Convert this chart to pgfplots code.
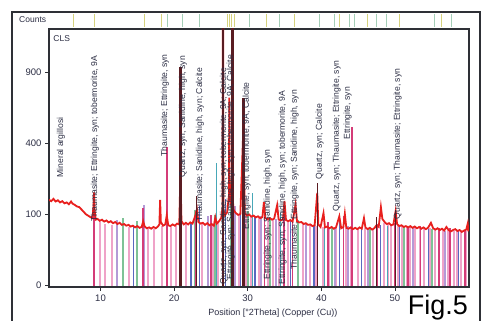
\documentclass[border=0pt]{standalone}
\usepackage{fontspec}
\setmainfont{Liberation Sans}
\usepackage{pgfplots}
\usepackage{pgfplotstable}
\pgfplotsset{compat=1.18}
\definecolor{txt}{HTML}{2C2E44}
\definecolor{frame}{HTML}{2E3036}
\definecolor{cred}{HTML}{E8201E}
\definecolor{cpink}{HTML}{EFA3C8}
\definecolor{cmag}{HTML}{D43C78}
\definecolor{cblue}{HTML}{5A68C0}
\definecolor{cgreen}{HTML}{7EC296}
\definecolor{cpurp}{HTML}{B49AD6}
\definecolor{cdark}{HTML}{5A1C22}
\definecolor{cteal}{HTML}{48A8B8}
\definecolor{sy}{HTML}{D6D27E}
\definecolor{sg}{HTML}{A5CFB8}
\tikzset{lbl/.style={rotate=90, anchor=west, font=\fontsize{8.6}{10}\selectfont, text=txt, inner sep=0.5pt}}

\pgfplotstableread{
x c
3.0 146
3.3 141
3.6 149
3.9 140
4.2 144
4.5 137
4.8 141
5.1 134
5.4 137
5.7 131
6.0 140
6.2 133
6.5 129
6.8 124
7.1 122
7.4 115
7.7 108
8.0 101
8.3 97
8.6 93
8.9 90
9.05 125
9.12 172
9.2 112
9.35 86
9.6 88
9.9 83
10.2 86
10.5 81
10.8 84
11.1 79
11.4 82
11.7 77
12.0 80
12.3 75
12.6 78
12.9 73
13.2 75
13.5 71
13.8 73
14.1 69
14.4 71
14.7 67
15.0 70
15.3 66
15.6 68
15.8 82
16.0 69
16.3 65
16.6 67
16.9 64
17.2 68
17.5 65
17.8 69
18.0 74
18.1 145
18.2 80
18.5 71
18.8 74
19.0 98
19.2 72
19.5 70
19.8 74
20.1 71
20.4 76
20.7 74
20.86 250
21.0 82
21.3 74
21.6 78
21.9 74
22.2 79
22.5 76
22.9 98
23.1 115
23.3 80
23.6 76
23.9 78
24.2 73
24.5 77
24.8 72
25.1 75
25.4 71
25.6 92
25.8 76
26.1 82
26.4 90
26.58 120
26.64 3000
26.70 115
26.9 98
27.2 106
27.45 160
27.5 700
27.55 150
27.7 135
27.85 160
27.9 1800
27.95 150
28.1 112
28.4 104
28.7 99
29.0 101
29.4 480
29.6 104
29.9 97
30.2 100
30.5 94
30.8 97
31.1 92
31.4 95
31.7 90
32.0 93
32.2 138
32.4 90
32.7 87
33.0 90
33.3 86
33.6 89
34.0 128
34.2 87
34.5 84
34.8 87
35.0 142
35.2 85
35.5 82
35.8 85
36.1 81
36.5 130
36.7 82
37.0 79
37.3 80
37.6 75
37.9 77
38.2 73
38.5 74
38.8 70
39.1 72
39.45 170
39.6 74
39.9 68
40.3 104
40.5 67
40.8 69
41.1 65
41.4 68
41.7 64
42.0 67
42.45 95
42.7 65
43.0 68
43.2 102
43.4 66
43.7 64
44.0 67
44.3 63
44.6 66
44.9 63
45.2 67
45.5 64
45.8 90
46.0 67
46.3 63
46.6 66
46.9 62
47.2 65
47.5 72
47.8 68
48.1 122
48.3 88
48.6 80
48.9 75
49.2 77
49.5 72
49.8 74
50.1 110
50.3 75
50.6 70
50.9 72
51.2 68
51.5 70
51.8 67
52.1 70
52.4 66
52.7 69
53.0 65
53.3 68
53.6 64
53.9 67
54.2 63
54.5 66
54.9 78
55.2 65
55.5 62
55.8 65
56.1 61
56.4 64
56.7 60
57.0 68
57.3 61
57.6 58
57.9 61
58.2 63
58.5 59
58.8 61
59.1 57
59.4 60
59.7 62
59.9 76
60.0 58
}\scan

\pgfplotstableread{
x c
9.9 80
10.6 76
11.6 72
13.9 68
16.5 63
17.2 64
18.3 70
19.6 68
20.3 70
21.6 75
23.8 76
25.3 72
26.0 80
28.8 98
29.8 98
30.5 95
31.5 92
32.8 88
33.5 86
34.2 86
35.5 83
36.9 80
37.5 76
38.5 73
39.3 71
40.2 68
41.0 67
42.0 66
43.3 66
44.0 65
45.0 65
46.0 65
47.0 63
48.5 78
49.0 74
49.5 72
50.4 72
51.0 70
51.6 68
52.0 67
52.8 66
53.4 65
54.0 64
54.8 66
55.5 63
56.5 61
57.2 62
58.0 60
58.4 60
59.0 59
59.6 60
}\spink

\pgfplotstableread{
x c
9.1 170
15.8 120
19.0 380
22.9 110
25.0 100
32.3 140
34.9 130
36.1 90
40.9 80
43.0 95
44.2 500
47.6 75
50.0 78
51.8 68
53.5 70
56.0 66
57.5 66
59.5 62
}\smag

\pgfplotstableread{
x c
14.5 72
22.3 78
23.4 125
27.0 150
29.0 100
31.0 95
35.8 88
39.0 72
42.5 95
45.5 66
48.0 72
50.6 68
54.6 64
58.6 58
}\sblue

\pgfplotstableread{
x c
13.1 90
14.9 82
22.8 112
25.5 100
27.7 220
30.0 110
33.0 92
36.8 86
41.5 68
46.6 64
51.2 68
55.0 64
}\sgreen

\pgfplotstableread{
x c
12.3 85
15.9 130
24.6 95
28.3 125
31.8 95
33.8 88
37.9 78
41.8 66
43.6 70
46.3 64
52.5 66
56.8 60
}\spurp

\pgfplotstableread{
x c
20.86 950
26.64 5000
27.9 3000
29.4 700
}\sdark

\pgfplotstableread{
x c
23.1 160
39.45 210
47.5 92
50.1 112
}\sdarkthin

\pgfplotstableread{
x c
25.8 300
28.0 260
30.7 170
34.4 105
40.5 88
49.0 70
}\steal

\pgfplotstableread{
x c
6.26 1
9.24 1
16.03 1
18.34 1
27.29 1
27.57 1
27.84 1
28.24 1
32.59 1
36.39 1
42.49 1
46.3 1
50.64 1
56.34 1
}\stripy

\pgfplotstableread{
x c
19.15 1
21.19 1
23.49 1
30.28 1
34.35 1
39.78 1
41.82 1
43.85 1
44.53 1
47.52 1
48.87 1
55.39 1
57.7 1
}\stripg

\newcommand{\lab}[3]{\node[lbl] at ({axis cs:#1,0} |- {rel axis cs:0,#2}) {#3};}

\begin{document}
\begin{tikzpicture}
\useasboundingbox (0,0) rectangle (483pt,321pt);
\clip (0,0) rectangle (483pt,321pt);
\fill[white] (0,0) rectangle (483pt,321pt);
\draw[line width=1.6pt, color=frame] (12pt,-10pt) -- (12pt,309pt) -- (480pt,309pt) -- (480pt,-10pt);
\node[anchor=west, font=\fontsize{8.5}{10}\selectfont, text=txt, inner sep=0pt] at (19pt,301pt) {Counts};

\begin{axis}[at={(49pt,294pt)}, anchor=south west, scale only axis,
  width=420pt, height=13pt, xmin=3, xmax=60.07, ymin=0, ymax=1, hide axis]
\addplot[ycomb, color=sy, line width=0.9pt, mark=none] table[x=x, y=c] {\stripy};
\addplot[ycomb, color=sg, line width=0.9pt, mark=none] table[x=x, y=c] {\stripg};
\end{axis}

\begin{axis}[at={(49pt,34pt)}, anchor=south west, scale only axis,
  width=420pt, height=258pt,
  xmin=3, xmax=60.07, ymin=-0.21, ymax=36.13,
  axis line style={line width=1.5pt, color=frame},
  tick align=outside, major tick length=4pt,
  tick style={color=frame, line width=0.7pt},
  xtick={10,20,30,40,50}, ytick={0,10,20,30}, yticklabels={0,100,400,900},
  xtick pos=bottom, ytick pos=left,
  /pgf/number format/assume math mode=true,
  ticklabel style={font=\fontsize{9.5}{11}\selectfont, text=txt},
  xlabel={Position [°2Theta] (Copper (Cu))},
  xlabel style={at={(axis description cs:0.533,0)}, anchor=center, yshift=-26pt,
    font=\fontsize{9}{11}\selectfont, text=txt},
]
\addplot[ycomb, color=cpink, line width=2pt, mark=none] table[x=x, y expr={sqrt(\thisrow{c})}] {\spink};
\addplot[ycomb, color=cpurp, line width=2pt, mark=none] table[x=x, y expr={sqrt(\thisrow{c})}] {\spurp};
\addplot[ycomb, color=cgreen, line width=2pt, mark=none] table[x=x, y expr={sqrt(\thisrow{c})}] {\sgreen};
\addplot[ycomb, color=cblue, line width=1.2pt, mark=none] table[x=x, y expr={sqrt(\thisrow{c})}] {\sblue};
\addplot[ycomb, color=cteal, line width=1pt, mark=none] table[x=x, y expr={sqrt(\thisrow{c})}] {\steal};
\addplot[ycomb, color=cmag, line width=1.5pt, mark=none] table[x=x, y expr={sqrt(\thisrow{c})}] {\smag};
\addplot[color=cred, line width=1.8pt, mark=none] table[x=x, y expr={sqrt(\thisrow{c})}] {\scan};
\addplot[ycomb, color=cdark, line width=2.6pt, mark=none] table[x=x, y expr={sqrt(\thisrow{c})}] {\sdark};
\addplot[ycomb, color=cdark, line width=1pt, mark=none] table[x=x, y expr={sqrt(\thisrow{c})}] {\sdarkthin};

\node[anchor=north west, font=\fontsize{8.5}{10}\selectfont, text=txt, inner sep=0pt] at (rel axis cs:0.01,0.975) {CLS};
\lab{4.63}{0.422}{Mineral argillosi}
\lab{9.24}{0.252}{Thaumasite; Ettringite, syn; tobermorite, 9A}
\lab{18.74}{0.504}{Thaumasite; Ettringite, syn}
\lab{21.19}{0.422}{Quartz, syn; Sanidine, high, syn}
\lab{23.49}{0.252}{Thaumasite; Sanidine, high, syn; Calcite}
\lab{26.75}{0.008}{Quartz, syn; Sanidine, high, syn; tobermorite, 9A; Calcite}
\lab{27.7}{0.027}{Ettringite, syn; Sanidine, high, syn; tobermorite, 9A; Calcite}
\lab{29.87}{0.221}{Ettringite, syn; tobermorite, 9A; Calcite}
\lab{32.7}{0.027}{Ettringite, syn; Sanidine, high, syn}
\lab{34.76}{0.008}{Ettringite, syn; Sanidine, high, syn; tobermorite, 9A}
\lab{36.39}{0.066}{Thaumasite; Ettringite, syn; Sanidine, high, syn}
\lab{39.78}{0.415}{Quartz, syn; Calcite}
\lab{42.09}{0.291}{Quartz, syn; Thaumasite; Ettringite, syn}
\lab{43.58}{0.57}{Ettringite, syn}
\lab{50.37}{0.26}{Quartz, syn; Thaumasite; Ettringite, syn}
\end{axis}

\node[anchor=base, font=\fontsize{27}{30}\selectfont, text=black, inner sep=0pt] at (438pt,6.5pt) {Fig.5};
\end{tikzpicture}
\end{document}
